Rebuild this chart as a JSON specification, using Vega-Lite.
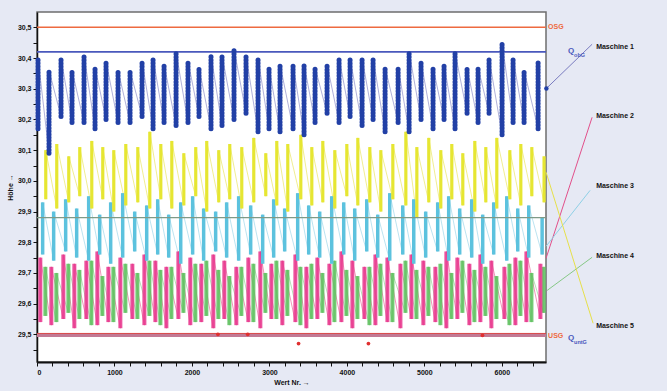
{
  "$schema": "https://vega.github.io/schema/vega-lite/v6.json",
  "width": 509,
  "height": 350,
  "autosize": "none",
  "padding": {"left": 37, "top": 12, "right": 121, "bottom": 29},
  "background": "#e6e9f4",
  "config": {
    "locale": {"number": {"decimal": ",", "thousands": ".", "grouping": [3], "currency": ["", " €"]}},
    "view": {"fill": "white", "stroke": "#6e6e6e", "strokeWidth": 1.5},
    "axis": {"labelFont": "Liberation Sans", "labelFontWeight": "bold", "labelFontSize": 7, "labelColor": "#111111", "titleFont": "Liberation Sans", "titleFontWeight": "bold", "titleFontSize": 7, "titleColor": "#111111", "domainColor": "#111111", "tickColor": "#111111", "grid": false, "tickSize": 4, "labelOverlap": false}
  },
  "datasets": {
    "hlines": [
      {"n": "OSG", "y": 30.5},
      {"n": "QobG", "y": 30.42},
      {"n": "Qunt", "y": 29.497},
      {"n": "USG", "y": 29.503},
      {"n": "mean", "y": 29.88}
    ],
    "cols": [
      {"m":"M1","x":13,"y":30.17,"y2":30.40},{"m":"M1","x":155,"y":30.09,"y2":30.36},{"m":"M1","x":310,"y":30.21,"y2":30.40},{"m":"M1","x":452,"y":30.19,"y2":30.36},{"m":"M1","x":607,"y":30.19,"y2":30.41},{"m":"M1","x":749,"y":30.17,"y2":30.37},{"m":"M1","x":891,"y":30.20,"y2":30.39},{"m":"M1","x":1046,"y":30.19,"y2":30.36},{"m":"M1","x":1201,"y":30.19,"y2":30.36},{"m":"M1","x":1356,"y":30.21,"y2":30.39},{"m":"M1","x":1498,"y":30.17,"y2":30.40},{"m":"M1","x":1640,"y":30.19,"y2":30.38},{"m":"M1","x":1795,"y":30.18,"y2":30.42},{"m":"M1","x":1949,"y":30.19,"y2":30.39},{"m":"M1","x":2091,"y":30.21,"y2":30.37},{"m":"M1","x":2246,"y":30.17,"y2":30.41},{"m":"M1","x":2388,"y":30.18,"y2":30.41},{"m":"M1","x":2543,"y":30.20,"y2":30.43},{"m":"M1","x":2698,"y":30.22,"y2":30.41},{"m":"M1","x":2853,"y":30.16,"y2":30.40},{"m":"M1","x":2995,"y":30.17,"y2":30.37},{"m":"M1","x":3137,"y":30.16,"y2":30.38},{"m":"M1","x":3305,"y":30.17,"y2":30.38},{"m":"M1","x":3447,"y":30.15,"y2":30.38},{"m":"M1","x":3589,"y":30.19,"y2":30.37},{"m":"M1","x":3744,"y":30.22,"y2":30.38},{"m":"M1","x":3899,"y":30.19,"y2":30.40},{"m":"M1","x":4041,"y":30.21,"y2":30.40},{"m":"M1","x":4196,"y":30.18,"y2":30.40},{"m":"M1","x":4338,"y":30.20,"y2":30.40},{"m":"M1","x":4493,"y":30.16,"y2":30.37},{"m":"M1","x":4661,"y":30.19,"y2":30.37},{"m":"M1","x":4803,"y":30.16,"y2":30.42},{"m":"M1","x":4957,"y":30.20,"y2":30.39},{"m":"M1","x":5112,"y":30.17,"y2":30.37},{"m":"M1","x":5254,"y":30.20,"y2":30.38},{"m":"M1","x":5396,"y":30.17,"y2":30.42},{"m":"M1","x":5551,"y":30.22,"y2":30.37},{"m":"M1","x":5693,"y":30.19,"y2":30.37},{"m":"M1","x":5835,"y":30.22,"y2":30.40},{"m":"M1","x":6003,"y":30.15,"y2":30.45},{"m":"M1","x":6145,"y":30.19,"y2":30.40},{"m":"M1","x":6287,"y":30.19,"y2":30.36},{"m":"M1","x":6468,"y":30.17,"y2":30.39},

      {"m":"M5","x":113,"y":29.94,"y2":30.10},{"m":"M5","x":255,"y":29.91,"y2":30.12},{"m":"M5","x":410,"y":29.93,"y2":30.08},{"m":"M5","x":552,"y":29.95,"y2":30.11},{"m":"M5","x":707,"y":29.91,"y2":30.13},{"m":"M5","x":849,"y":29.94,"y2":30.11},{"m":"M5","x":991,"y":29.90,"y2":30.10},{"m":"M5","x":1146,"y":29.92,"y2":30.12},{"m":"M5","x":1301,"y":29.93,"y2":30.11},{"m":"M5","x":1456,"y":29.91,"y2":30.16},{"m":"M5","x":1598,"y":29.94,"y2":30.12},{"m":"M5","x":1740,"y":29.91,"y2":30.13},{"m":"M5","x":1895,"y":29.92,"y2":30.09},{"m":"M5","x":2049,"y":29.95,"y2":30.11},{"m":"M5","x":2191,"y":29.90,"y2":30.13},{"m":"M5","x":2346,"y":29.93,"y2":30.10},{"m":"M5","x":2488,"y":29.94,"y2":30.12},{"m":"M5","x":2643,"y":29.91,"y2":30.11},{"m":"M5","x":2798,"y":29.93,"y2":30.14},{"m":"M5","x":2953,"y":29.95,"y2":30.09},{"m":"M5","x":3095,"y":29.92,"y2":30.13},{"m":"M5","x":3237,"y":29.90,"y2":30.12},{"m":"M5","x":3405,"y":29.94,"y2":30.15},{"m":"M5","x":3547,"y":29.92,"y2":30.11},{"m":"M5","x":3689,"y":29.93,"y2":30.13},{"m":"M5","x":3844,"y":29.91,"y2":30.10},{"m":"M5","x":3999,"y":29.95,"y2":30.12},{"m":"M5","x":4141,"y":29.92,"y2":30.14},{"m":"M5","x":4296,"y":29.93,"y2":30.11},{"m":"M5","x":4438,"y":29.90,"y2":30.10},{"m":"M5","x":4593,"y":29.94,"y2":30.12},{"m":"M5","x":4761,"y":29.92,"y2":30.16},{"m":"M5","x":4903,"y":29.88,"y2":30.11},{"m":"M5","x":5057,"y":29.93,"y2":30.14},{"m":"M5","x":5212,"y":29.91,"y2":30.10},{"m":"M5","x":5354,"y":29.94,"y2":30.12},{"m":"M5","x":5496,"y":29.92,"y2":30.09},{"m":"M5","x":5651,"y":29.90,"y2":30.13},{"m":"M5","x":5793,"y":29.93,"y2":30.11},{"m":"M5","x":5935,"y":29.91,"y2":30.14},{"m":"M5","x":6103,"y":29.94,"y2":30.10},{"m":"M5","x":6245,"y":29.92,"y2":30.12},{"m":"M5","x":6387,"y":29.95,"y2":30.11},{"m":"M5","x":6545,"y":29.93,"y2":30.08},

      {"m":"M3","x":73,"y":29.76,"y2":29.93},{"m":"M3","x":215,"y":29.74,"y2":29.90},{"m":"M3","x":370,"y":29.77,"y2":29.94},{"m":"M3","x":512,"y":29.75,"y2":29.91},{"m":"M3","x":667,"y":29.74,"y2":29.95},{"m":"M3","x":809,"y":29.76,"y2":29.89},{"m":"M3","x":951,"y":29.73,"y2":29.93},{"m":"M3","x":1106,"y":29.75,"y2":29.96},{"m":"M3","x":1261,"y":29.77,"y2":29.90},{"m":"M3","x":1416,"y":29.74,"y2":29.92},{"m":"M3","x":1558,"y":29.76,"y2":29.94},{"m":"M3","x":1700,"y":29.75,"y2":29.89},{"m":"M3","x":1855,"y":29.73,"y2":29.93},{"m":"M3","x":2009,"y":29.76,"y2":29.95},{"m":"M3","x":2151,"y":29.74,"y2":29.91},{"m":"M3","x":2306,"y":29.77,"y2":29.90},{"m":"M3","x":2448,"y":29.75,"y2":29.93},{"m":"M3","x":2603,"y":29.74,"y2":29.95},{"m":"M3","x":2758,"y":29.76,"y2":29.92},{"m":"M3","x":2913,"y":29.73,"y2":29.89},{"m":"M3","x":3055,"y":29.75,"y2":29.94},{"m":"M3","x":3197,"y":29.77,"y2":29.91},{"m":"M3","x":3365,"y":29.74,"y2":29.96},{"m":"M3","x":3507,"y":29.76,"y2":29.92},{"m":"M3","x":3649,"y":29.75,"y2":29.90},{"m":"M3","x":3804,"y":29.73,"y2":29.95},{"m":"M3","x":3959,"y":29.76,"y2":29.93},{"m":"M3","x":4101,"y":29.74,"y2":29.91},{"m":"M3","x":4256,"y":29.77,"y2":29.94},{"m":"M3","x":4398,"y":29.75,"y2":29.89},{"m":"M3","x":4553,"y":29.74,"y2":29.96},{"m":"M3","x":4721,"y":29.76,"y2":29.92},{"m":"M3","x":4863,"y":29.73,"y2":29.94},{"m":"M3","x":5017,"y":29.75,"y2":29.90},{"m":"M3","x":5172,"y":29.77,"y2":29.93},{"m":"M3","x":5314,"y":29.74,"y2":29.95},{"m":"M3","x":5456,"y":29.76,"y2":29.91},{"m":"M3","x":5611,"y":29.75,"y2":29.94},{"m":"M3","x":5753,"y":29.73,"y2":29.89},{"m":"M3","x":5895,"y":29.76,"y2":29.93},{"m":"M3","x":6063,"y":29.74,"y2":29.95},{"m":"M3","x":6205,"y":29.77,"y2":29.91},{"m":"M3","x":6347,"y":29.75,"y2":29.92},{"m":"M3","x":6520,"y":29.76,"y2":29.88},

      {"m":"M2","x":43,"y":29.54,"y2":29.75},{"m":"M2","x":185,"y":29.53,"y2":29.72},{"m":"M2","x":340,"y":29.55,"y2":29.76},{"m":"M2","x":482,"y":29.52,"y2":29.73},{"m":"M2","x":637,"y":29.55,"y2":29.74},{"m":"M2","x":779,"y":29.53,"y2":29.77},{"m":"M2","x":921,"y":29.54,"y2":29.72},{"m":"M2","x":1076,"y":29.52,"y2":29.75},{"m":"M2","x":1231,"y":29.55,"y2":29.73},{"m":"M2","x":1386,"y":29.53,"y2":29.76},{"m":"M2","x":1528,"y":29.54,"y2":29.74},{"m":"M2","x":1670,"y":29.52,"y2":29.72},{"m":"M2","x":1825,"y":29.55,"y2":29.77},{"m":"M2","x":1979,"y":29.53,"y2":29.75},{"m":"M2","x":2121,"y":29.54,"y2":29.73},{"m":"M2","x":2276,"y":29.52,"y2":29.76},{"m":"M2","x":2418,"y":29.55,"y2":29.74},{"m":"M2","x":2573,"y":29.53,"y2":29.72},{"m":"M2","x":2728,"y":29.54,"y2":29.75},{"m":"M2","x":2883,"y":29.52,"y2":29.77},{"m":"M2","x":3025,"y":29.55,"y2":29.73},{"m":"M2","x":3167,"y":29.53,"y2":29.74},{"m":"M2","x":3335,"y":29.54,"y2":29.76},{"m":"M2","x":3477,"y":29.52,"y2":29.72},{"m":"M2","x":3619,"y":29.55,"y2":29.75},{"m":"M2","x":3774,"y":29.53,"y2":29.73},{"m":"M2","x":3929,"y":29.54,"y2":29.77},{"m":"M2","x":4071,"y":29.52,"y2":29.74},{"m":"M2","x":4226,"y":29.55,"y2":29.72},{"m":"M2","x":4368,"y":29.53,"y2":29.76},{"m":"M2","x":4523,"y":29.54,"y2":29.75},{"m":"M2","x":4691,"y":29.52,"y2":29.73},{"m":"M2","x":4833,"y":29.55,"y2":29.76},{"m":"M2","x":4987,"y":29.53,"y2":29.74},{"m":"M2","x":5142,"y":29.54,"y2":29.72},{"m":"M2","x":5284,"y":29.52,"y2":29.77},{"m":"M2","x":5426,"y":29.55,"y2":29.75},{"m":"M2","x":5581,"y":29.53,"y2":29.73},{"m":"M2","x":5723,"y":29.54,"y2":29.76},{"m":"M2","x":5865,"y":29.52,"y2":29.74},{"m":"M2","x":6033,"y":29.55,"y2":29.72},{"m":"M2","x":6175,"y":29.53,"y2":29.75},{"m":"M2","x":6317,"y":29.54,"y2":29.77},{"m":"M2","x":6498,"y":29.55,"y2":29.73},

      {"m":"M4","x":108,"y":29.56,"y2":29.72},{"m":"M4","x":250,"y":29.54,"y2":29.70},{"m":"M4","x":405,"y":29.57,"y2":29.73},{"m":"M4","x":547,"y":29.55,"y2":29.71},{"m":"M4","x":702,"y":29.53,"y2":29.74},{"m":"M4","x":844,"y":29.56,"y2":29.69},{"m":"M4","x":986,"y":29.54,"y2":29.72},{"m":"M4","x":1141,"y":29.57,"y2":29.73},{"m":"M4","x":1296,"y":29.55,"y2":29.70},{"m":"M4","x":1451,"y":29.56,"y2":29.74},{"m":"M4","x":1593,"y":29.53,"y2":29.71},{"m":"M4","x":1735,"y":29.55,"y2":29.72},{"m":"M4","x":1890,"y":29.57,"y2":29.70},{"m":"M4","x":2044,"y":29.54,"y2":29.73},{"m":"M4","x":2186,"y":29.56,"y2":29.74},{"m":"M4","x":2341,"y":29.55,"y2":29.71},{"m":"M4","x":2483,"y":29.53,"y2":29.69},{"m":"M4","x":2638,"y":29.56,"y2":29.72},{"m":"M4","x":2793,"y":29.54,"y2":29.73},{"m":"M4","x":2948,"y":29.57,"y2":29.70},{"m":"M4","x":3090,"y":29.55,"y2":29.74},{"m":"M4","x":3232,"y":29.56,"y2":29.71},{"m":"M4","x":3400,"y":29.53,"y2":29.72},{"m":"M4","x":3542,"y":29.55,"y2":29.73},{"m":"M4","x":3684,"y":29.57,"y2":29.70},{"m":"M4","x":3839,"y":29.54,"y2":29.74},{"m":"M4","x":3994,"y":29.56,"y2":29.71},{"m":"M4","x":4136,"y":29.55,"y2":29.69},{"m":"M4","x":4291,"y":29.53,"y2":29.72},{"m":"M4","x":4433,"y":29.56,"y2":29.73},{"m":"M4","x":4588,"y":29.54,"y2":29.70},{"m":"M4","x":4756,"y":29.57,"y2":29.74},{"m":"M4","x":4898,"y":29.55,"y2":29.71},{"m":"M4","x":5052,"y":29.56,"y2":29.72},{"m":"M4","x":5207,"y":29.53,"y2":29.73},{"m":"M4","x":5349,"y":29.55,"y2":29.70},{"m":"M4","x":5491,"y":29.57,"y2":29.74},{"m":"M4","x":5646,"y":29.54,"y2":29.71},{"m":"M4","x":5788,"y":29.56,"y2":29.72},{"m":"M4","x":5930,"y":29.55,"y2":29.69},{"m":"M4","x":6098,"y":29.53,"y2":29.73},{"m":"M4","x":6240,"y":29.56,"y2":29.74},{"m":"M4","x":6382,"y":29.54,"y2":29.70},{"m":"M4","x":6540,"y":29.57,"y2":29.72}
    ],
    "outl": [
      {"x": 2335, "y": 29.50}, {"x": 2720, "y": 29.50}, {"x": 3376, "y": 29.47}, {"x": 4278, "y": 29.47}, {"x": 5750, "y": 29.497}
    ],
    "leaders": [
      {"m": "M1", "x": 7165, "y": 30.445, "x2": 6575, "y2": 30.301},
      {"m": "M2", "x": 7165, "y": 30.207, "x2": 6571, "y2": 29.748},
      {"m": "M3", "x": 7139, "y": 29.969, "x2": 6571, "y2": 29.787},
      {"m": "M4", "x": 7165, "y": 29.751, "x2": 6584, "y2": 29.643},
      {"m": "M5", "x": 7178, "y": 29.536, "x2": 6571, "y2": 30.028}
    ],
    "labels": [
      {"t": "OSG", "k": "lim", "x": 6597, "y": 30.5},
      {"t": "Q", "k": "Q", "x": 6855, "y": 30.422},
      {"t": "obG", "k": "Qs", "x": 6932, "y": 30.41},
      {"t": "USG", "k": "lim", "x": 6597, "y": 29.494},
      {"t": "Q", "k": "Q", "x": 6855, "y": 29.487},
      {"t": "untG", "k": "Qs", "x": 6932, "y": 29.475},
      {"t": "Maschine 1", "k": "M", "x": 7217, "y": 30.435},
      {"t": "Maschine 2", "k": "M", "x": 7217, "y": 30.21},
      {"t": "Maschine 3", "k": "M", "x": 7217, "y": 29.982},
      {"t": "Maschine 4", "k": "M", "x": 7217, "y": 29.754},
      {"t": "Maschine 5", "k": "M", "x": 7217, "y": 29.526}
    ]
  },
  "encoding": {
    "y": {
      "field": "y", "type": "quantitative",
      "scale": {"domain": [29.41, 30.55], "nice": false, "zero": false},
      "axis": {
        "title": "Höhe →", "titlePadding": 4, "format": ".1f", "labelPadding": 2, "domainWidth": 1.5, "labelOverlap": false,
        "values": [29.45, 29.5, 29.55, 29.6, 29.65, 29.7, 29.75, 29.8, 29.85, 29.9, 29.95, 30.0, 30.05, 30.1, 30.15, 30.2, 30.25, 30.3, 30.35, 30.4, 30.45, 30.5],
        "labelExpr": "round(datum.value*100) % 10 === 0 ? datum.label : ''"
      }
    }
  },
  "layer": [
    {
      "data": {"name": "hlines"},
      "transform": [{"filter": "datum.n === 'OSG'"}],
      "mark": {"type": "rule", "color": "#ee6a40", "strokeWidth": 1.5},
      "encoding": {}
    },
    {
      "data": {"name": "hlines"},
      "transform": [{"filter": "datum.n === 'QobG'"}],
      "mark": {"type": "rule", "color": "#4a58bc", "strokeWidth": 1.6},
      "encoding": {}
    },
    {
      "data": {"name": "hlines"},
      "transform": [{"filter": "datum.n === 'Qunt'"}],
      "mark": {"type": "rule", "color": "#c27a95", "strokeWidth": 3.5},
      "encoding": {}
    },
    {
      "data": {"name": "cols"},
      "transform": [{"fold": ["y", "y2"], "as": ["k", "y"]}],
      "mark": {"type": "line", "strokeWidth": 0.8, "opacity": 0.75},
      "encoding": {
        "x": {"field": "x", "type": "quantitative", "scale": {"domain": [0, 6570], "nice": false, "zero": false},
          "axis": {"title": "Wert Nr. →", "format": "d", "titlePadding": 3, "labelPadding": 2, "domainWidth": 2, "labelOverlap": false,
            "values": [0,200,400,600,800,1000,1200,1400,1600,1800,2000,2200,2400,2600,2800,3000,3200,3400,3600,3800,4000,4200,4400,4600,4800,5000,5200,5400,5600,5800,6000,6200,6400],
            "labelExpr": "datum.value % 1000 === 0 ? datum.label : ''"}},
        "color": {"field": "m", "type": "nominal", "legend": null,
          "scale": {"domain": ["M1", "M2", "M3", "M4", "M5"], "range": ["#7a7cc0", "#e2508a", "#8fd0e6", "#86c886", "#e6e04a"]}},
        "order": [{"field": "x", "type": "quantitative"}, {"field": "k", "type": "nominal"}]
      }
    },
    {
      "data": {"name": "cols"},
      "transform": [{"filter": "datum.m === 'M4'"}],
      "mark": {"type": "rule", "color": "#5cbf5c", "strokeWidth": 4, "opacity": 0.85},
      "encoding": {"x": {"field": "x", "type": "quantitative", "scale": {"domain": [0, 6570], "nice": false, "zero": false},
          "axis": {"title": "Wert Nr. →", "format": "d", "titlePadding": 3, "labelPadding": 2, "domainWidth": 2, "labelOverlap": false,
            "values": [0,200,400,600,800,1000,1200,1400,1600,1800,2000,2200,2400,2600,2800,3000,3200,3400,3600,3800,4000,4200,4400,4600,4800,5000,5200,5400,5600,5800,6000,6200,6400],
            "labelExpr": "datum.value % 1000 === 0 ? datum.label : ''"}}, "y2": {"field": "y2"}}
    },
    {
      "data": {"name": "cols"},
      "transform": [{"filter": "datum.m === 'M2'"}],
      "mark": {"type": "rule", "color": "#e8348c", "strokeWidth": 4, "opacity": 0.85},
      "encoding": {"x": {"field": "x", "type": "quantitative", "scale": {"domain": [0, 6570], "nice": false, "zero": false},
          "axis": {"title": "Wert Nr. →", "format": "d", "titlePadding": 3, "labelPadding": 2, "domainWidth": 2, "labelOverlap": false,
            "values": [0,200,400,600,800,1000,1200,1400,1600,1800,2000,2200,2400,2600,2800,3000,3200,3400,3600,3800,4000,4200,4400,4600,4800,5000,5200,5400,5600,5800,6000,6200,6400],
            "labelExpr": "datum.value % 1000 === 0 ? datum.label : ''"}}, "y2": {"field": "y2"}}
    },
    {
      "data": {"name": "cols"},
      "transform": [{"filter": "datum.m === 'M3'"}],
      "mark": {"type": "rule", "color": "#5cc2de", "strokeWidth": 3.5},
      "encoding": {"x": {"field": "x", "type": "quantitative", "scale": {"domain": [0, 6570], "nice": false, "zero": false},
          "axis": {"title": "Wert Nr. →", "format": "d", "titlePadding": 3, "labelPadding": 2, "domainWidth": 2, "labelOverlap": false,
            "values": [0,200,400,600,800,1000,1200,1400,1600,1800,2000,2200,2400,2600,2800,3000,3200,3400,3600,3800,4000,4200,4400,4600,4800,5000,5200,5400,5600,5800,6000,6200,6400],
            "labelExpr": "datum.value % 1000 === 0 ? datum.label : ''"}}, "y2": {"field": "y2"}}
    },
    {
      "data": {"name": "cols"},
      "transform": [{"filter": "datum.m === 'M5'"}],
      "mark": {"type": "rule", "color": "#e6e632", "strokeWidth": 3.2},
      "encoding": {"x": {"field": "x", "type": "quantitative", "scale": {"domain": [0, 6570], "nice": false, "zero": false},
          "axis": {"title": "Wert Nr. →", "format": "d", "titlePadding": 3, "labelPadding": 2, "domainWidth": 2, "labelOverlap": false,
            "values": [0,200,400,600,800,1000,1200,1400,1600,1800,2000,2200,2400,2600,2800,3000,3200,3400,3600,3800,4000,4200,4400,4600,4800,5000,5200,5400,5600,5800,6000,6200,6400],
            "labelExpr": "datum.value % 1000 === 0 ? datum.label : ''"}}, "y2": {"field": "y2"}}
    },
    {
      "data": {"name": "cols"},
      "transform": [{"filter": "datum.m === 'M1'"}],
      "mark": {"type": "rule", "color": "#2240a6", "strokeWidth": 5, "strokeCap": "round", "strokeDash": [0.5, 2.6]},
      "encoding": {"x": {"field": "x", "type": "quantitative", "scale": {"domain": [0, 6570], "nice": false, "zero": false},
          "axis": {"title": "Wert Nr. →", "format": "d", "titlePadding": 3, "labelPadding": 2, "domainWidth": 2, "labelOverlap": false,
            "values": [0,200,400,600,800,1000,1200,1400,1600,1800,2000,2200,2400,2600,2800,3000,3200,3400,3600,3800,4000,4200,4400,4600,4800,5000,5200,5400,5600,5800,6000,6200,6400],
            "labelExpr": "datum.value % 1000 === 0 ? datum.label : ''"}}, "y2": {"field": "y2"}}
    },
    {
      "data": {"name": "hlines"},
      "transform": [{"filter": "datum.n === 'USG'"}],
      "mark": {"type": "rule", "color": "#d84848", "strokeWidth": 1},
      "encoding": {}
    },
    {
      "data": {"name": "hlines"},
      "transform": [{"filter": "datum.n === 'mean'"}],
      "mark": {"type": "rule", "color": "#7f9a88", "strokeWidth": 1.2},
      "encoding": {}
    },
    {
      "data": {"name": "outl"},
      "mark": {"type": "point", "filled": true, "color": "#e03030", "size": 14, "opacity": 1},
      "encoding": {"x": {"field": "x", "type": "quantitative", "scale": {"domain": [0, 6570], "nice": false, "zero": false},
          "axis": {"title": "Wert Nr. →", "format": "d", "titlePadding": 3, "labelPadding": 2, "domainWidth": 2, "labelOverlap": false,
            "values": [0,200,400,600,800,1000,1200,1400,1600,1800,2000,2200,2400,2600,2800,3000,3200,3400,3600,3800,4000,4200,4400,4600,4800,5000,5200,5400,5600,5800,6000,6200,6400],
            "labelExpr": "datum.value % 1000 === 0 ? datum.label : ''"}}}
    },
    {
      "data": {"name": "leaders"},
      "mark": {"type": "rule", "strokeWidth": 1, "clip": false},
      "encoding": {
        "x": {"field": "x", "type": "quantitative", "scale": {"domain": [0, 6570], "nice": false, "zero": false},
          "axis": {"title": "Wert Nr. →", "format": "d", "titlePadding": 3, "labelPadding": 2, "domainWidth": 2, "labelOverlap": false,
            "values": [0,200,400,600,800,1000,1200,1400,1600,1800,2000,2200,2400,2600,2800,3000,3200,3400,3600,3800,4000,4200,4400,4600,4800,5000,5200,5400,5600,5800,6000,6200,6400],
            "labelExpr": "datum.value % 1000 === 0 ? datum.label : ''"}},
        "x2": {"field": "x2"},
        "y2": {"field": "y2"},
        "color": {"field": "m", "type": "nominal", "legend": null}
      }
    },
    {
      "data": {"name": "leaders"},
      "transform": [{"filter": "datum.m === 'M1'"}],
      "mark": {"type": "point", "filled": true, "color": "#2240a6", "size": 20, "opacity": 1, "clip": false},
      "encoding": {
        "x": {"field": "x2", "type": "quantitative", "scale": {"domain": [0, 6570], "nice": false, "zero": false},
          "axis": {"title": "Wert Nr. →", "format": "d", "titlePadding": 3, "labelPadding": 2, "domainWidth": 2, "labelOverlap": false,
            "values": [0,200,400,600,800,1000,1200,1400,1600,1800,2000,2200,2400,2600,2800,3000,3200,3400,3600,3800,4000,4200,4400,4600,4800,5000,5200,5400,5600,5800,6000,6200,6400],
            "labelExpr": "datum.value % 1000 === 0 ? datum.label : ''"}},
        "y": {"field": "y2", "type": "quantitative"}
      }
    },
    {
      "data": {"name": "labels"},
      "transform": [{"filter": "datum.k === 'lim'"}],
      "mark": {"type": "text", "align": "left", "baseline": "middle", "font": "Liberation Sans", "fontWeight": "bold", "fontSize": 7, "color": "#ee6a40", "clip": false},
      "encoding": {"x": {"field": "x", "type": "quantitative", "scale": {"domain": [0, 6570], "nice": false, "zero": false},
          "axis": {"title": "Wert Nr. →", "format": "d", "titlePadding": 3, "labelPadding": 2, "domainWidth": 2, "labelOverlap": false,
            "values": [0,200,400,600,800,1000,1200,1400,1600,1800,2000,2200,2400,2600,2800,3000,3200,3400,3600,3800,4000,4200,4400,4600,4800,5000,5200,5400,5600,5800,6000,6200,6400],
            "labelExpr": "datum.value % 1000 === 0 ? datum.label : ''"}}, "text": {"field": "t"}}
    },
    {
      "data": {"name": "labels"},
      "transform": [{"filter": "datum.k === 'Q'"}],
      "mark": {"type": "text", "align": "left", "baseline": "middle", "font": "Liberation Sans", "fontWeight": "bold", "fontSize": 8, "color": "#4a58bc", "clip": false},
      "encoding": {"x": {"field": "x", "type": "quantitative", "scale": {"domain": [0, 6570], "nice": false, "zero": false},
          "axis": {"title": "Wert Nr. →", "format": "d", "titlePadding": 3, "labelPadding": 2, "domainWidth": 2, "labelOverlap": false,
            "values": [0,200,400,600,800,1000,1200,1400,1600,1800,2000,2200,2400,2600,2800,3000,3200,3400,3600,3800,4000,4200,4400,4600,4800,5000,5200,5400,5600,5800,6000,6200,6400],
            "labelExpr": "datum.value % 1000 === 0 ? datum.label : ''"}}, "text": {"field": "t"}}
    },
    {
      "data": {"name": "labels"},
      "transform": [{"filter": "datum.k === 'Qs'"}],
      "mark": {"type": "text", "align": "left", "baseline": "middle", "font": "Liberation Sans", "fontWeight": "bold", "fontSize": 5.5, "color": "#4a58bc", "clip": false},
      "encoding": {"x": {"field": "x", "type": "quantitative", "scale": {"domain": [0, 6570], "nice": false, "zero": false},
          "axis": {"title": "Wert Nr. →", "format": "d", "titlePadding": 3, "labelPadding": 2, "domainWidth": 2, "labelOverlap": false,
            "values": [0,200,400,600,800,1000,1200,1400,1600,1800,2000,2200,2400,2600,2800,3000,3200,3400,3600,3800,4000,4200,4400,4600,4800,5000,5200,5400,5600,5800,6000,6200,6400],
            "labelExpr": "datum.value % 1000 === 0 ? datum.label : ''"}}, "text": {"field": "t"}}
    },
    {
      "data": {"name": "labels"},
      "transform": [{"filter": "datum.k === 'M'"}],
      "mark": {"type": "text", "align": "left", "baseline": "middle", "font": "Liberation Sans", "fontWeight": "bold", "fontSize": 7, "color": "#111111", "clip": false},
      "encoding": {"x": {"field": "x", "type": "quantitative", "scale": {"domain": [0, 6570], "nice": false, "zero": false},
          "axis": {"title": "Wert Nr. →", "format": "d", "titlePadding": 3, "labelPadding": 2, "domainWidth": 2, "labelOverlap": false,
            "values": [0,200,400,600,800,1000,1200,1400,1600,1800,2000,2200,2400,2600,2800,3000,3200,3400,3600,3800,4000,4200,4400,4600,4800,5000,5200,5400,5600,5800,6000,6200,6400],
            "labelExpr": "datum.value % 1000 === 0 ? datum.label : ''"}}, "text": {"field": "t"}}
    }
  ]
}
